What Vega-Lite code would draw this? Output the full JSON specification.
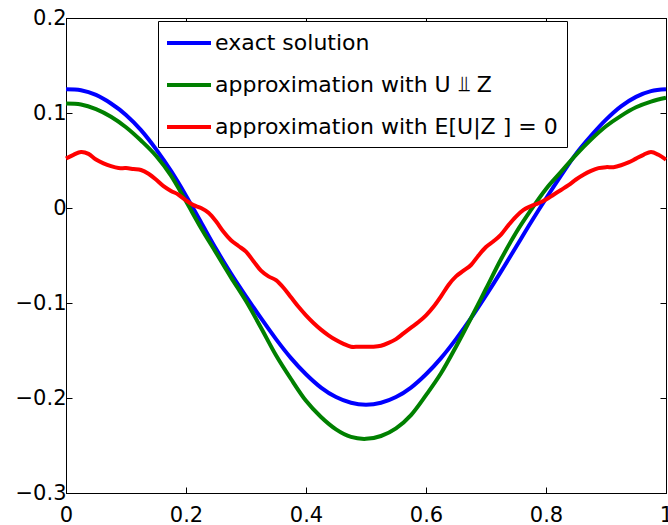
{
  "$schema": "https://vega.github.io/schema/vega-lite/v6.json",
  "width": 600,
  "height": 475,
  "autosize": {"type": "none"},
  "padding": {"left": 66, "top": 18, "right": 2, "bottom": 32},
  "background": "white",
  "config": {
    "view": {"stroke": "black", "strokeWidth": 1},
    "font": "DejaVu Sans",
    "axis": {
      "grid": false,
      "domainColor": "black",
      "tickColor": "black",
      "labelColor": "black",
      "labelFont": "DejaVu Sans",
      "labelFontSize": 21,
      "tickSize": -6,
      "title": null
    }
  },
  "datasets": {
    "curves": [
      {"x": 0, "y": 0.125, "s": "exact solution"},
      {"x": 0.025, "y": 0.124, "s": "exact solution"},
      {"x": 0.05, "y": 0.119, "s": "exact solution"},
      {"x": 0.075, "y": 0.110, "s": "exact solution"},
      {"x": 0.1, "y": 0.098, "s": "exact solution"},
      {"x": 0.125, "y": 0.082, "s": "exact solution"},
      {"x": 0.15, "y": 0.062, "s": "exact solution"},
      {"x": 0.175, "y": 0.039, "s": "exact solution"},
      {"x": 0.2, "y": 0.013, "s": "exact solution"},
      {"x": 0.225, "y": -0.015, "s": "exact solution"},
      {"x": 0.25, "y": -0.043, "s": "exact solution"},
      {"x": 0.275, "y": -0.069, "s": "exact solution"},
      {"x": 0.3, "y": -0.093, "s": "exact solution"},
      {"x": 0.325, "y": -0.116, "s": "exact solution"},
      {"x": 0.35, "y": -0.138, "s": "exact solution"},
      {"x": 0.375, "y": -0.158, "s": "exact solution"},
      {"x": 0.4, "y": -0.175, "s": "exact solution"},
      {"x": 0.425, "y": -0.189, "s": "exact solution"},
      {"x": 0.45, "y": -0.199, "s": "exact solution"},
      {"x": 0.475, "y": -0.205, "s": "exact solution"},
      {"x": 0.5, "y": -0.207, "s": "exact solution"},
      {"x": 0.525, "y": -0.205, "s": "exact solution"},
      {"x": 0.55, "y": -0.199, "s": "exact solution"},
      {"x": 0.575, "y": -0.189, "s": "exact solution"},
      {"x": 0.6, "y": -0.175, "s": "exact solution"},
      {"x": 0.625, "y": -0.158, "s": "exact solution"},
      {"x": 0.65, "y": -0.138, "s": "exact solution"},
      {"x": 0.675, "y": -0.116, "s": "exact solution"},
      {"x": 0.7, "y": -0.092, "s": "exact solution"},
      {"x": 0.725, "y": -0.067, "s": "exact solution"},
      {"x": 0.75, "y": -0.041, "s": "exact solution"},
      {"x": 0.775, "y": -0.015, "s": "exact solution"},
      {"x": 0.8, "y": 0.010, "s": "exact solution"},
      {"x": 0.825, "y": 0.034, "s": "exact solution"},
      {"x": 0.85, "y": 0.057, "s": "exact solution"},
      {"x": 0.875, "y": 0.076, "s": "exact solution"},
      {"x": 0.9, "y": 0.093, "s": "exact solution"},
      {"x": 0.925, "y": 0.107, "s": "exact solution"},
      {"x": 0.95, "y": 0.117, "s": "exact solution"},
      {"x": 0.975, "y": 0.123, "s": "exact solution"},
      {"x": 1, "y": 0.125, "s": "exact solution"},

      {"x": 0, "y": 0.110, "s": "approximation with U ⫫ Z"},
      {"x": 0.025, "y": 0.109, "s": "approximation with U ⫫ Z"},
      {"x": 0.05, "y": 0.104, "s": "approximation with U ⫫ Z"},
      {"x": 0.075, "y": 0.096, "s": "approximation with U ⫫ Z"},
      {"x": 0.1, "y": 0.085, "s": "approximation with U ⫫ Z"},
      {"x": 0.125, "y": 0.071, "s": "approximation with U ⫫ Z"},
      {"x": 0.15, "y": 0.055, "s": "approximation with U ⫫ Z"},
      {"x": 0.175, "y": 0.034, "s": "approximation with U ⫫ Z"},
      {"x": 0.2, "y": 0.007, "s": "approximation with U ⫫ Z"},
      {"x": 0.225, "y": -0.021, "s": "approximation with U ⫫ Z"},
      {"x": 0.25, "y": -0.047, "s": "approximation with U ⫫ Z"},
      {"x": 0.275, "y": -0.073, "s": "approximation with U ⫫ Z"},
      {"x": 0.3, "y": -0.098, "s": "approximation with U ⫫ Z"},
      {"x": 0.325, "y": -0.126, "s": "approximation with U ⫫ Z"},
      {"x": 0.35, "y": -0.155, "s": "approximation with U ⫫ Z"},
      {"x": 0.375, "y": -0.180, "s": "approximation with U ⫫ Z"},
      {"x": 0.4, "y": -0.203, "s": "approximation with U ⫫ Z"},
      {"x": 0.425, "y": -0.220, "s": "approximation with U ⫫ Z"},
      {"x": 0.45, "y": -0.233, "s": "approximation with U ⫫ Z"},
      {"x": 0.475, "y": -0.241, "s": "approximation with U ⫫ Z"},
      {"x": 0.5, "y": -0.243, "s": "approximation with U ⫫ Z"},
      {"x": 0.525, "y": -0.240, "s": "approximation with U ⫫ Z"},
      {"x": 0.55, "y": -0.232, "s": "approximation with U ⫫ Z"},
      {"x": 0.575, "y": -0.218, "s": "approximation with U ⫫ Z"},
      {"x": 0.6, "y": -0.197, "s": "approximation with U ⫫ Z"},
      {"x": 0.625, "y": -0.174, "s": "approximation with U ⫫ Z"},
      {"x": 0.65, "y": -0.146, "s": "approximation with U ⫫ Z"},
      {"x": 0.675, "y": -0.116, "s": "approximation with U ⫫ Z"},
      {"x": 0.7, "y": -0.085, "s": "approximation with U ⫫ Z"},
      {"x": 0.725, "y": -0.054, "s": "approximation with U ⫫ Z"},
      {"x": 0.75, "y": -0.026, "s": "approximation with U ⫫ Z"},
      {"x": 0.775, "y": -0.002, "s": "approximation with U ⫫ Z"},
      {"x": 0.8, "y": 0.020, "s": "approximation with U ⫫ Z"},
      {"x": 0.825, "y": 0.038, "s": "approximation with U ⫫ Z"},
      {"x": 0.85, "y": 0.056, "s": "approximation with U ⫫ Z"},
      {"x": 0.875, "y": 0.072, "s": "approximation with U ⫫ Z"},
      {"x": 0.9, "y": 0.086, "s": "approximation with U ⫫ Z"},
      {"x": 0.925, "y": 0.097, "s": "approximation with U ⫫ Z"},
      {"x": 0.95, "y": 0.106, "s": "approximation with U ⫫ Z"},
      {"x": 0.975, "y": 0.112, "s": "approximation with U ⫫ Z"},
      {"x": 1, "y": 0.116, "s": "approximation with U ⫫ Z"},

      {"x": 0, "y": 0.052, "s": "approximation with E[U|Z ] = 0"},
      {"x": 0.0125, "y": 0.056, "s": "approximation with E[U|Z ] = 0"},
      {"x": 0.025, "y": 0.059, "s": "approximation with E[U|Z ] = 0"},
      {"x": 0.0375, "y": 0.057, "s": "approximation with E[U|Z ] = 0"},
      {"x": 0.05, "y": 0.051, "s": "approximation with E[U|Z ] = 0"},
      {"x": 0.0625, "y": 0.047, "s": "approximation with E[U|Z ] = 0"},
      {"x": 0.075, "y": 0.044, "s": "approximation with E[U|Z ] = 0"},
      {"x": 0.0875, "y": 0.042, "s": "approximation with E[U|Z ] = 0"},
      {"x": 0.1, "y": 0.042, "s": "approximation with E[U|Z ] = 0"},
      {"x": 0.1125, "y": 0.041, "s": "approximation with E[U|Z ] = 0"},
      {"x": 0.125, "y": 0.040, "s": "approximation with E[U|Z ] = 0"},
      {"x": 0.1375, "y": 0.036, "s": "approximation with E[U|Z ] = 0"},
      {"x": 0.15, "y": 0.030, "s": "approximation with E[U|Z ] = 0"},
      {"x": 0.1625, "y": 0.023, "s": "approximation with E[U|Z ] = 0"},
      {"x": 0.175, "y": 0.018, "s": "approximation with E[U|Z ] = 0"},
      {"x": 0.1875, "y": 0.014, "s": "approximation with E[U|Z ] = 0"},
      {"x": 0.2, "y": 0.008, "s": "approximation with E[U|Z ] = 0"},
      {"x": 0.2125, "y": 0.003, "s": "approximation with E[U|Z ] = 0"},
      {"x": 0.225, "y": 0.000, "s": "approximation with E[U|Z ] = 0"},
      {"x": 0.2375, "y": -0.005, "s": "approximation with E[U|Z ] = 0"},
      {"x": 0.25, "y": -0.014, "s": "approximation with E[U|Z ] = 0"},
      {"x": 0.2625, "y": -0.025, "s": "approximation with E[U|Z ] = 0"},
      {"x": 0.275, "y": -0.034, "s": "approximation with E[U|Z ] = 0"},
      {"x": 0.2875, "y": -0.040, "s": "approximation with E[U|Z ] = 0"},
      {"x": 0.3, "y": -0.046, "s": "approximation with E[U|Z ] = 0"},
      {"x": 0.3125, "y": -0.056, "s": "approximation with E[U|Z ] = 0"},
      {"x": 0.325, "y": -0.066, "s": "approximation with E[U|Z ] = 0"},
      {"x": 0.3375, "y": -0.072, "s": "approximation with E[U|Z ] = 0"},
      {"x": 0.35, "y": -0.076, "s": "approximation with E[U|Z ] = 0"},
      {"x": 0.3625, "y": -0.084, "s": "approximation with E[U|Z ] = 0"},
      {"x": 0.375, "y": -0.094, "s": "approximation with E[U|Z ] = 0"},
      {"x": 0.3875, "y": -0.104, "s": "approximation with E[U|Z ] = 0"},
      {"x": 0.4, "y": -0.113, "s": "approximation with E[U|Z ] = 0"},
      {"x": 0.4125, "y": -0.121, "s": "approximation with E[U|Z ] = 0"},
      {"x": 0.425, "y": -0.128, "s": "approximation with E[U|Z ] = 0"},
      {"x": 0.4375, "y": -0.134, "s": "approximation with E[U|Z ] = 0"},
      {"x": 0.45, "y": -0.139, "s": "approximation with E[U|Z ] = 0"},
      {"x": 0.4625, "y": -0.143, "s": "approximation with E[U|Z ] = 0"},
      {"x": 0.475, "y": -0.146, "s": "approximation with E[U|Z ] = 0"},
      {"x": 0.4875, "y": -0.146, "s": "approximation with E[U|Z ] = 0"},
      {"x": 0.5, "y": -0.146, "s": "approximation with E[U|Z ] = 0"},
      {"x": 0.5125, "y": -0.146, "s": "approximation with E[U|Z ] = 0"},
      {"x": 0.525, "y": -0.145, "s": "approximation with E[U|Z ] = 0"},
      {"x": 0.5375, "y": -0.142, "s": "approximation with E[U|Z ] = 0"},
      {"x": 0.55, "y": -0.138, "s": "approximation with E[U|Z ] = 0"},
      {"x": 0.5625, "y": -0.132, "s": "approximation with E[U|Z ] = 0"},
      {"x": 0.575, "y": -0.126, "s": "approximation with E[U|Z ] = 0"},
      {"x": 0.5875, "y": -0.120, "s": "approximation with E[U|Z ] = 0"},
      {"x": 0.6, "y": -0.113, "s": "approximation with E[U|Z ] = 0"},
      {"x": 0.6125, "y": -0.104, "s": "approximation with E[U|Z ] = 0"},
      {"x": 0.625, "y": -0.093, "s": "approximation with E[U|Z ] = 0"},
      {"x": 0.6375, "y": -0.081, "s": "approximation with E[U|Z ] = 0"},
      {"x": 0.65, "y": -0.072, "s": "approximation with E[U|Z ] = 0"},
      {"x": 0.6625, "y": -0.066, "s": "approximation with E[U|Z ] = 0"},
      {"x": 0.675, "y": -0.060, "s": "approximation with E[U|Z ] = 0"},
      {"x": 0.6875, "y": -0.050, "s": "approximation with E[U|Z ] = 0"},
      {"x": 0.7, "y": -0.041, "s": "approximation with E[U|Z ] = 0"},
      {"x": 0.7125, "y": -0.035, "s": "approximation with E[U|Z ] = 0"},
      {"x": 0.725, "y": -0.028, "s": "approximation with E[U|Z ] = 0"},
      {"x": 0.7375, "y": -0.018, "s": "approximation with E[U|Z ] = 0"},
      {"x": 0.75, "y": -0.009, "s": "approximation with E[U|Z ] = 0"},
      {"x": 0.7625, "y": -0.002, "s": "approximation with E[U|Z ] = 0"},
      {"x": 0.775, "y": 0.002, "s": "approximation with E[U|Z ] = 0"},
      {"x": 0.7875, "y": 0.005, "s": "approximation with E[U|Z ] = 0"},
      {"x": 0.8, "y": 0.009, "s": "approximation with E[U|Z ] = 0"},
      {"x": 0.8125, "y": 0.014, "s": "approximation with E[U|Z ] = 0"},
      {"x": 0.825, "y": 0.019, "s": "approximation with E[U|Z ] = 0"},
      {"x": 0.8375, "y": 0.024, "s": "approximation with E[U|Z ] = 0"},
      {"x": 0.85, "y": 0.030, "s": "approximation with E[U|Z ] = 0"},
      {"x": 0.8625, "y": 0.035, "s": "approximation with E[U|Z ] = 0"},
      {"x": 0.875, "y": 0.039, "s": "approximation with E[U|Z ] = 0"},
      {"x": 0.8875, "y": 0.042, "s": "approximation with E[U|Z ] = 0"},
      {"x": 0.9, "y": 0.043, "s": "approximation with E[U|Z ] = 0"},
      {"x": 0.9125, "y": 0.043, "s": "approximation with E[U|Z ] = 0"},
      {"x": 0.925, "y": 0.045, "s": "approximation with E[U|Z ] = 0"},
      {"x": 0.9375, "y": 0.048, "s": "approximation with E[U|Z ] = 0"},
      {"x": 0.95, "y": 0.052, "s": "approximation with E[U|Z ] = 0"},
      {"x": 0.9625, "y": 0.056, "s": "approximation with E[U|Z ] = 0"},
      {"x": 0.975, "y": 0.059, "s": "approximation with E[U|Z ] = 0"},
      {"x": 0.9875, "y": 0.056, "s": "approximation with E[U|Z ] = 0"},
      {"x": 1, "y": 0.051, "s": "approximation with E[U|Z ] = 0"}
    ]
  },
  "data": {"name": "curves"},
  "layer": [
    {
      "mark": {"type": "line", "strokeWidth": 4, "interpolate": "cardinal"},
      "encoding": {
        "x": {
          "field": "x", "type": "quantitative",
          "scale": {"domain": [0, 1], "nice": false, "zero": false},
          "axis": {"orient": "bottom", "values": [0, 0.2, 0.4, 0.6, 0.8, 1], "format": ".1~f", "labelPadding": 17, "labelFlush": false, "labelOverlap": false}
        },
        "y": {
          "field": "y", "type": "quantitative",
          "scale": {"domain": [-0.3, 0.2], "nice": false, "zero": false},
          "axis": {"orient": "left", "values": [-0.3, -0.2, -0.1, 0, 0.1, 0.2], "format": ".1~f", "labelPadding": 6, "labelFlush": false, "labelOverlap": false}
        },
        "color": {
          "field": "s", "type": "nominal",
          "scale": {
            "domain": ["exact solution", "approximation with U ⫫ Z", "approximation with E[U|Z ] = 0"],
            "range": ["#0000FF", "#008000", "#FF0000"]
          },
          "legend": {
            "title": null,
            "orient": "none",
            "legendX": 92,
            "legendY": 3,
            "direction": "vertical",
            "symbolType": "M-2,0H2",
            "symbolSize": 484,
            "symbolStrokeWidth": 4,
            "symbolOffset": 9,
            "labelFont": "DejaVu Sans",
            "labelFontSize": 22,
            "labelColor": "black",
            "labelLimit": 0,
            "labelOffset": 13,
            "rowPadding": 18,
            "padding": 9,
            "strokeColor": "black",
            "fillColor": "white"
          }
        }
      }
    },
    {
      "mark": {"type": "point", "opacity": 0},
      "encoding": {
        "x": {
          "field": "x", "type": "quantitative",
          "axis": {"orient": "top", "values": [0, 0.2, 0.4, 0.6, 0.8, 1], "labels": false}
        },
        "y": {
          "field": "y", "type": "quantitative",
          "axis": {"orient": "right", "values": [-0.3, -0.2, -0.1, 0, 0.1, 0.2], "labels": false}
        }
      }
    }
  ],
  "resolve": {"axis": {"x": "independent", "y": "independent"}}
}
